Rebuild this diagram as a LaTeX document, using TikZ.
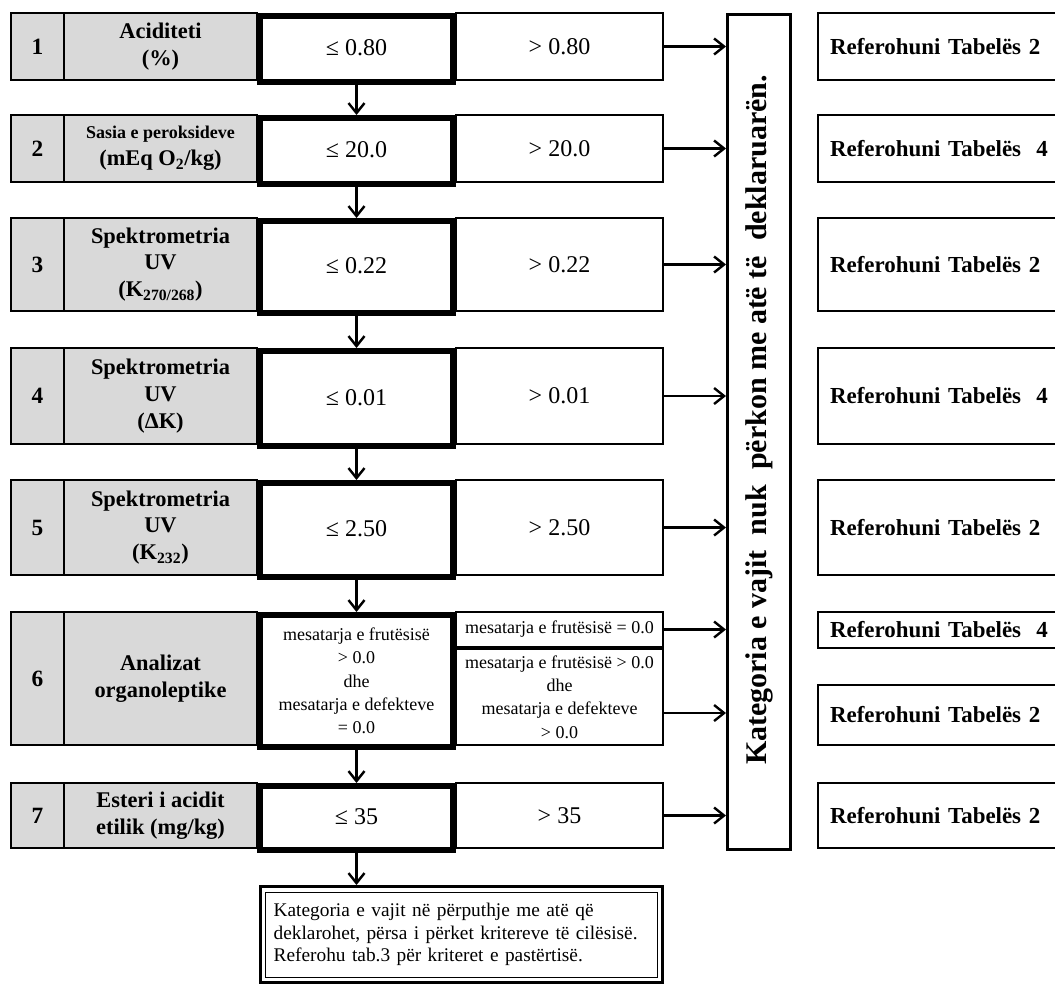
\documentclass[tikz,border=0pt]{standalone}
\usepackage{fontspec}
\setmainfont{Liberation Serif}
\usetikzlibrary{arrows.meta}
\usetikzlibrary{calc}
\tikzset{cell/.style={draw, line width=0.9pt, inner sep=0pt, align=center},
numcell/.style={cell, line width=1.2pt, fill=black!15, minimum width=39.75pt, font=\fontsize{17.5}{20}\selectfont\bfseries},
labcell/.style={cell, fill=black!15, minimum width=144.75pt, font=\fontsize{16.8}{20}\selectfont\bfseries},
valbox/.style={draw, line width=4.5pt, fill=white, inner sep=0pt, minimum width=144.75pt, align=center, font=\fontsize{18}{21}\selectfont},
restbox/.style={cell, fill=white, minimum width=155.25pt, font=\fontsize{18}{21}\selectfont},
smalltxt/.style={font=\fontsize{13.5}{17.5}\selectfont},
refbox/.style={draw, line width=1.3pt, inner xsep=9pt, inner ysep=0pt, text width=167.25pt, align=left, font=\fontsize{17.2}{20}\selectfont\bfseries},
katbox/.style={draw, line width=2.4pt, minimum width=47.1pt, minimum height=626.1pt},
finbox/.style={draw, line width=2pt, minimum width=301.75pt, minimum height=72.25pt, inner xsep=10pt, text width=281.75pt, align=left, font=\fontsize{14.5}{17}\selectfont},
arr/.style={-{Straight Barb[length=7.5pt,width=12pt]}, line width=1.8pt}}

\begin{document}
\begin{tikzpicture}[x=0.75pt,y=-0.75pt]
\useasboundingbox (0,0) rectangle (1055,986);
\clip (0,0) rectangle (1055,986);

% rows 1-5 and 7
\foreach \n/\yc/\rh/\lab/\val/\tabref in {
1/46.5/67/{Aciditeti\\(\%)}/0.80/{Referohuni Tabelës 2},
2/148.5/67/{{\fontsize{13.5}{16}\selectfont Sasia e peroksideve}\\(mEq O\textsubscript{2}/kg)}/20.0/{Referohuni Tabelës\ \ 4},
3/264.5/93/{Spektrometria\\UV\\(K\textsubscript{270/268})}/0.22/{Referohuni Tabelës 2},
4/396/96/{Spektrometria\\UV\\(ΔK)}/0.01/{Referohuni Tabelës\ \ 4},
5/527.5/95/{Spektrometria\\UV\\(K\textsubscript{232})}/2.50/{Referohuni Tabelës 2},
7/815.5/65/{Esteri i acidit\\etilik (mg/kg)}/35/{Referohuni Tabelës 2}}{
\node[numcell, minimum height=\rh*0.75pt] (num\n) at (37.5,\yc) {\n};
\node[labcell, minimum height=\rh*0.75pt] (lab\n) at (160.5,\yc) {\lab};
\node[restbox, minimum height=\rh*0.75pt] (rest\n) at (559.5,\yc) {> \val};
\node[valbox, minimum height=\rh*0.75pt-0.75pt] (val\n) at (356.5,\yc+2.5) {\raisebox{1.9pt}{≤ \val}};
\node[refbox, minimum height=\rh*0.75pt] (ref\n) at (941.5,\yc) {\raisebox{-2.5pt}{\tabref}};
}

% row 6
\node[numcell, minimum height=99.75pt] (num6) at (37.5,678.5) {6};
\node[labcell, minimum height=99.75pt] (lab6) at (160.5,678.5) {Analizat\\organoleptike};
\node[restbox, smalltxt, minimum height=26.25pt] (rest6a) at (559.5,629.5) {mesatarja e frutësisë = 0.0};
\node[restbox, smalltxt, minimum height=72pt] (rest6b) at (559.5,697) {mesatarja e frutësisë > 0.0\\dhe\\mesatarja e defekteve\\> 0.0};
\node[valbox, smalltxt, minimum height=99pt] (val6) at (356.5,681) {mesatarja e frutësisë\\> 0.0\\dhe\\mesatarja e defekteve\\= 0.0};
\node[refbox, minimum height=27pt] (ref6a) at (941.5,630) {Referohuni Tabelës\ \ 4};
\node[refbox, minimum height=45pt] (ref6b) at (941.5,715) {\raisebox{-2.5pt}{Referohuni Tabelës 2}};

% right column and final box
\node[katbox] (kat) at (759,432) {};
\node[rotate=90, font=\fontsize{22.5}{26}\selectfont\bfseries] (kattxt) at ([yshift=9pt]kat.center) {Kategoria e vajit\ \ nuk\ \ përkon me atë të\ \ deklaruarën.};
\node[finbox] (fin) at (461.5,934.5) {Kategoria e vajit në përputhje me atë që\\deklarohet, përsa i përket kritereve të cilësisë.\\Referohu tab.3 për kriteret e pastërtisë.};
\draw[line width=0.7pt] ([shift={(5pt,-5.5pt)}]fin.north west) rectangle ([shift={(-5pt,5pt)}]fin.south east);

% arrows
\foreach \a/\b in {1/2,2/3,3/4,4/5,5/6,6/7}
  \draw[arr] (val\a) -- (val\b);
\draw[arr] (val7.south) -- (val7.south |- fin.north);
\foreach \r in {1,2,3,4,5,7,6a}
  \draw[arr] (rest\r.east) -- (rest\r.east -| kat.west);
\draw[arr] ([yshift=-12pt]rest6b.east) -- ([yshift=-12pt]rest6b.east -| kat.west);
\end{tikzpicture}
\end{document}
